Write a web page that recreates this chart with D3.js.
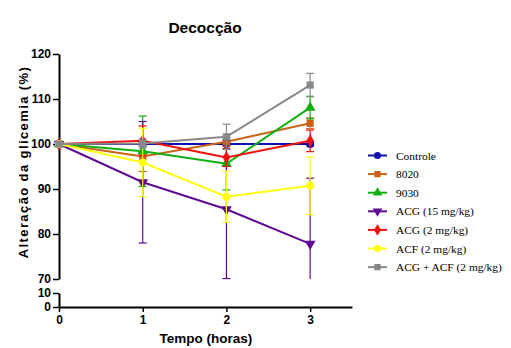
<!DOCTYPE html>
<html>
<head>
<meta charset="utf-8">
<script src="https://cdn.jsdelivr.net/npm/d3@7"></script>
<style>
  body { margin: 0; background: #fff; }
  svg { display: block; }
</style>
</head>
<body>
<svg id="chart" width="511" height="348"></svg>
<script>
// Tempo (horas)
const times = [0, 1, 2, 3];

// Média da alteração da glicemia (%) por grupo
const controle = [100, 100, 100, 100];
const s8020    = [100, 97.2, 100.5, 104.6];
const s9030    = [100, 98.4, 95.6, 108.1];
const acg15    = [100, 91.5, 85.5, 77.8];
const acg2     = [100, 100.7, 97.0, 100.7];
const acf      = [100, 95.9, 88.3, 90.7];
const acgAcf   = [100, 100.1, 101.6, 113.1];

// Desvios (barras de erro)
const sdControle = [0, 0.4, 0.4, 0.4];
const sd8020     = [0, 3.3, 1.0, 1.2];
const sd9030     = [0, 7.8, 5.8, 2.5];
const sdAcg15    = [0, 13.5, 15.4, 14.6];
const sdAcg2     = [0, 3.3, 2.0, 2.4];
const sdAcf      = [0, 7.6, 5.7, 6.4];
const sdAcgAcf   = [0, 1.0, 2.8, 2.6];

const groupNames = ["Controle", "8020", "9030", "ACG (15 mg/kg)", "ACG (2 mg/kg)", "ACF (2 mg/kg)", "ACG + ACF (2 mg/kg)"];

// Eixo Y (quebrado): 0–10 e 70–120
const yTicksLow  = [0, 10];
const yTicksHigh = [70, 80, 90, 100, 110, 120];
const xTicks = [0, 1, 2, 3];

const series = [
  { name: groupNames[0], mean: controle, sd: sdControle, color: "#1010b0", shape: "circle" },
  { name: groupNames[1], mean: s8020,    sd: sd8020,     color: "#c8641a", shape: "square" },
  { name: groupNames[2], mean: s9030,    sd: sd9030,     color: "#10b010", shape: "triUp" },
  { name: groupNames[3], mean: acg15,    sd: sdAcg15,    color: "#600b94", shape: "triDown" },
  { name: groupNames[4], mean: acg2,     sd: sdAcg2,     color: "#f01010", shape: "diamond" },
  { name: groupNames[5], mean: acf,      sd: sdAcf,      color: "#ffff10", shape: "circle" },
  { name: groupNames[6], mean: acgAcf,   sd: sdAcgAcf,   color: "#888888", shape: "square" }
];

const svg = d3.select("#chart");
const axisColor = "#000";
const fontSans = "Arial, 'Liberation Sans', sans-serif";

const x = d3.scaleLinear().domain([0, 3.5]).range([59, 352]);
const yHigh = d3.scaleLinear().domain([70, 120]).range([279, 54]);
const yLow = d3.scaleLinear().domain([0, 10]).range([307, 293]);

// Title
svg.append("text")
  .attr("x", 205).attr("y", 33)
  .attr("text-anchor", "middle")
  .attr("font-family", fontSans).attr("font-weight", "bold").attr("font-size", 15.5)
  .text("Decocção");

// Y axis label
svg.append("text")
  .attr("transform", "translate(28,162) rotate(-90)")
  .attr("text-anchor", "middle")
  .attr("font-family", fontSans).attr("font-weight", "bold").attr("font-size", 13)
  .attr("letter-spacing", 1.4)
  .text("Alteração da glicemia (%)");

// X axis label
svg.append("text")
  .attr("x", 206).attr("y", 343)
  .attr("text-anchor", "middle")
  .attr("font-family", fontSans).attr("font-weight", "bold").attr("font-size", 13.5)
  .text("Tempo (horas)");

function styleAxis(g) {
  g.select(".domain").attr("stroke", axisColor).attr("stroke-width", 2);
  g.selectAll(".tick line").attr("stroke", axisColor).attr("stroke-width", 1.5);
  g.selectAll(".tick text")
    .attr("font-family", fontSans).attr("font-weight", "bold").attr("font-size", 12)
    .attr("fill", "#000");
}

// Upper Y segment
svg.append("g").attr("transform", "translate(59,0)")
  .call(d3.axisLeft(yHigh).tickValues(yTicksHigh).tickSize(6).tickSizeOuter(0).tickPadding(2))
  .call(styleAxis);

// Lower Y segment
svg.append("g").attr("transform", "translate(59,0)")
  .call(d3.axisLeft(yLow).tickValues(yTicksLow).tickSize(6).tickSizeOuter(0).tickPadding(2))
  .call(styleAxis);

// X axis
svg.append("g").attr("transform", "translate(0,307)")
  .call(d3.axisBottom(x).tickValues(xTicks).tickSize(5).tickSizeOuter(0).tickPadding(3).tickFormat(d3.format("d")))
  .call(styleAxis);

// Marker shapes
const symbolFor = {
  circle: d3.symbol().type(d3.symbolCircle).size(50),
  square: d3.symbol().type(d3.symbolSquare).size(52),
  triUp: d3.symbol().type(d3.symbolTriangle).size(50),
  triDown: d3.symbol().type(d3.symbolTriangle).size(50),
  diamond: d3.symbol().type(d3.symbolDiamond).size(50)
};
function markerTransform(shape, cx, cy) {
  return shape === "triDown" ? `translate(${cx},${cy}) rotate(180)` : `translate(${cx},${cy})`;
}

const plot = svg.append("g");
const clampY = v => Math.max(70, Math.min(120, v));

series.forEach(s => {
  const pts = times.map((t, i) => ({ t, m: s.mean[i], sd: s.sd[i] }));
  const g = plot.append("g");

  // Error bars
  pts.filter(p => p.sd > 0).forEach(p => {
    const cx = x(p.t);
    const hi = p.m + p.sd, lo = p.m - p.sd;
    g.append("line")
      .attr("x1", cx).attr("x2", cx)
      .attr("y1", yHigh(clampY(hi))).attr("y2", yHigh(clampY(lo)))
      .attr("stroke", s.color).attr("stroke-width", 1.2);
    [hi, lo].filter(v => v >= 70 && v <= 120).forEach(v => {
      g.append("line")
        .attr("x1", cx - 4).attr("x2", cx + 4)
        .attr("y1", yHigh(v)).attr("y2", yHigh(v))
        .attr("stroke", s.color).attr("stroke-width", 1.2);
    });
  });

  // Mean line
  g.append("path")
    .datum(pts)
    .attr("fill", "none")
    .attr("stroke", s.color).attr("stroke-width", 2)
    .attr("d", d3.line().x(p => x(p.t)).y(p => yHigh(p.m)));

  // Markers
  g.selectAll("path.mk").data(pts).join("path")
    .attr("class", "mk")
    .attr("d", symbolFor[s.shape])
    .attr("transform", p => markerTransform(s.shape, x(p.t), yHigh(p.m)))
    .attr("fill", s.color);
});

// Legend
const legend = svg.append("g");
series.forEach((s, i) => {
  const ly = 155.5 + i * 18.6;
  legend.append("line")
    .attr("x1", 368).attr("x2", 387).attr("y1", ly).attr("y2", ly)
    .attr("stroke", s.color).attr("stroke-width", 2);
  legend.append("path")
    .attr("d", d3.symbol().type(
      s.shape === "circle" ? d3.symbolCircle :
      s.shape === "square" ? d3.symbolSquare :
      s.shape === "diamond" ? d3.symbolDiamond : d3.symbolTriangle).size(40))
    .attr("transform", markerTransform(s.shape, 377.5, ly))
    .attr("fill", s.color);
  legend.append("text")
    .attr("x", 396).attr("y", ly + 4)
    .attr("font-family", "'Liberation Serif', 'Times New Roman', serif")
    .attr("font-size", 11.4)
    .text(s.name);
});
</script>
</body>
</html>
